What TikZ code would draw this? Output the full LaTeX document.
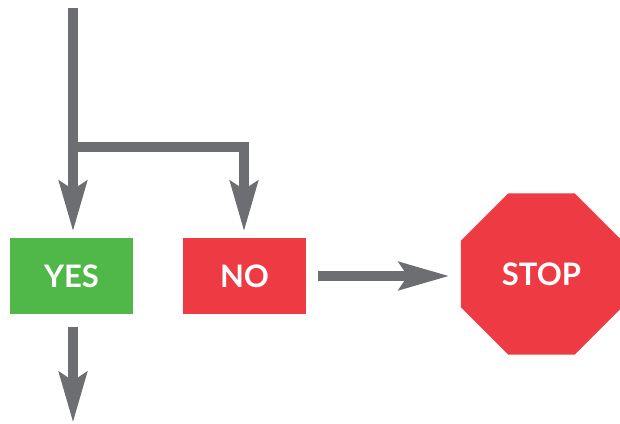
\documentclass[tikz,border=0pt]{standalone}
\usepackage{fontspec}
\setmainfont{Lato}
\usetikzlibrary{arrows.meta,shapes.geometric}
\definecolor{yesgreen}{RGB}{80,184,72}
\definecolor{nored}{RGB}{238,58,67}
\definecolor{arrowgray}{RGB}{109,110,113}
\begin{document}
\begin{tikzpicture}[x=1pt,y=-1pt,
    label font/.style={text=white,font=\fontsize{31}{32}\selectfont\bfseries},
    answer/.style={rectangle,minimum width=123pt,minimum height=76pt,inner sep=0,label font},
    flow/.style={draw=arrowgray,line width=10.5pt,-{Stealth[length=50pt,width=27pt,inset=8pt]}}]
\useasboundingbox (0,0) rectangle (620,423);
%boxes
\node[answer,fill=yesgreen] (yes) at (71.5,276){YES};
\node[answer,fill=nored] (no) at (244.5,276){NO};
\node[regular polygon,regular polygon sides=8,minimum size=174.3pt,inner sep=0,fill=nored,label font] (stop) at (541.5,274){STOP};
%ends of the flow
\coordinate (top) at (73,8);
\coordinate (fork) at (73,147);
\coordinate (bottom) at (73,423);
%arrows
\path[flow] (top) -- (top |- yes.north) [shorten >=6pt];
\path[flow] (fork) -| ([xshift=-0.5pt]no.north) [shorten >=6pt];
\path[flow] (no.east) -- (no.east -| stop.west) [shorten <=12pt,shorten >=11pt];
\path[flow] (top |- yes.south) -- (bottom) [shorten <=13pt];
\end{tikzpicture}
\end{document}
